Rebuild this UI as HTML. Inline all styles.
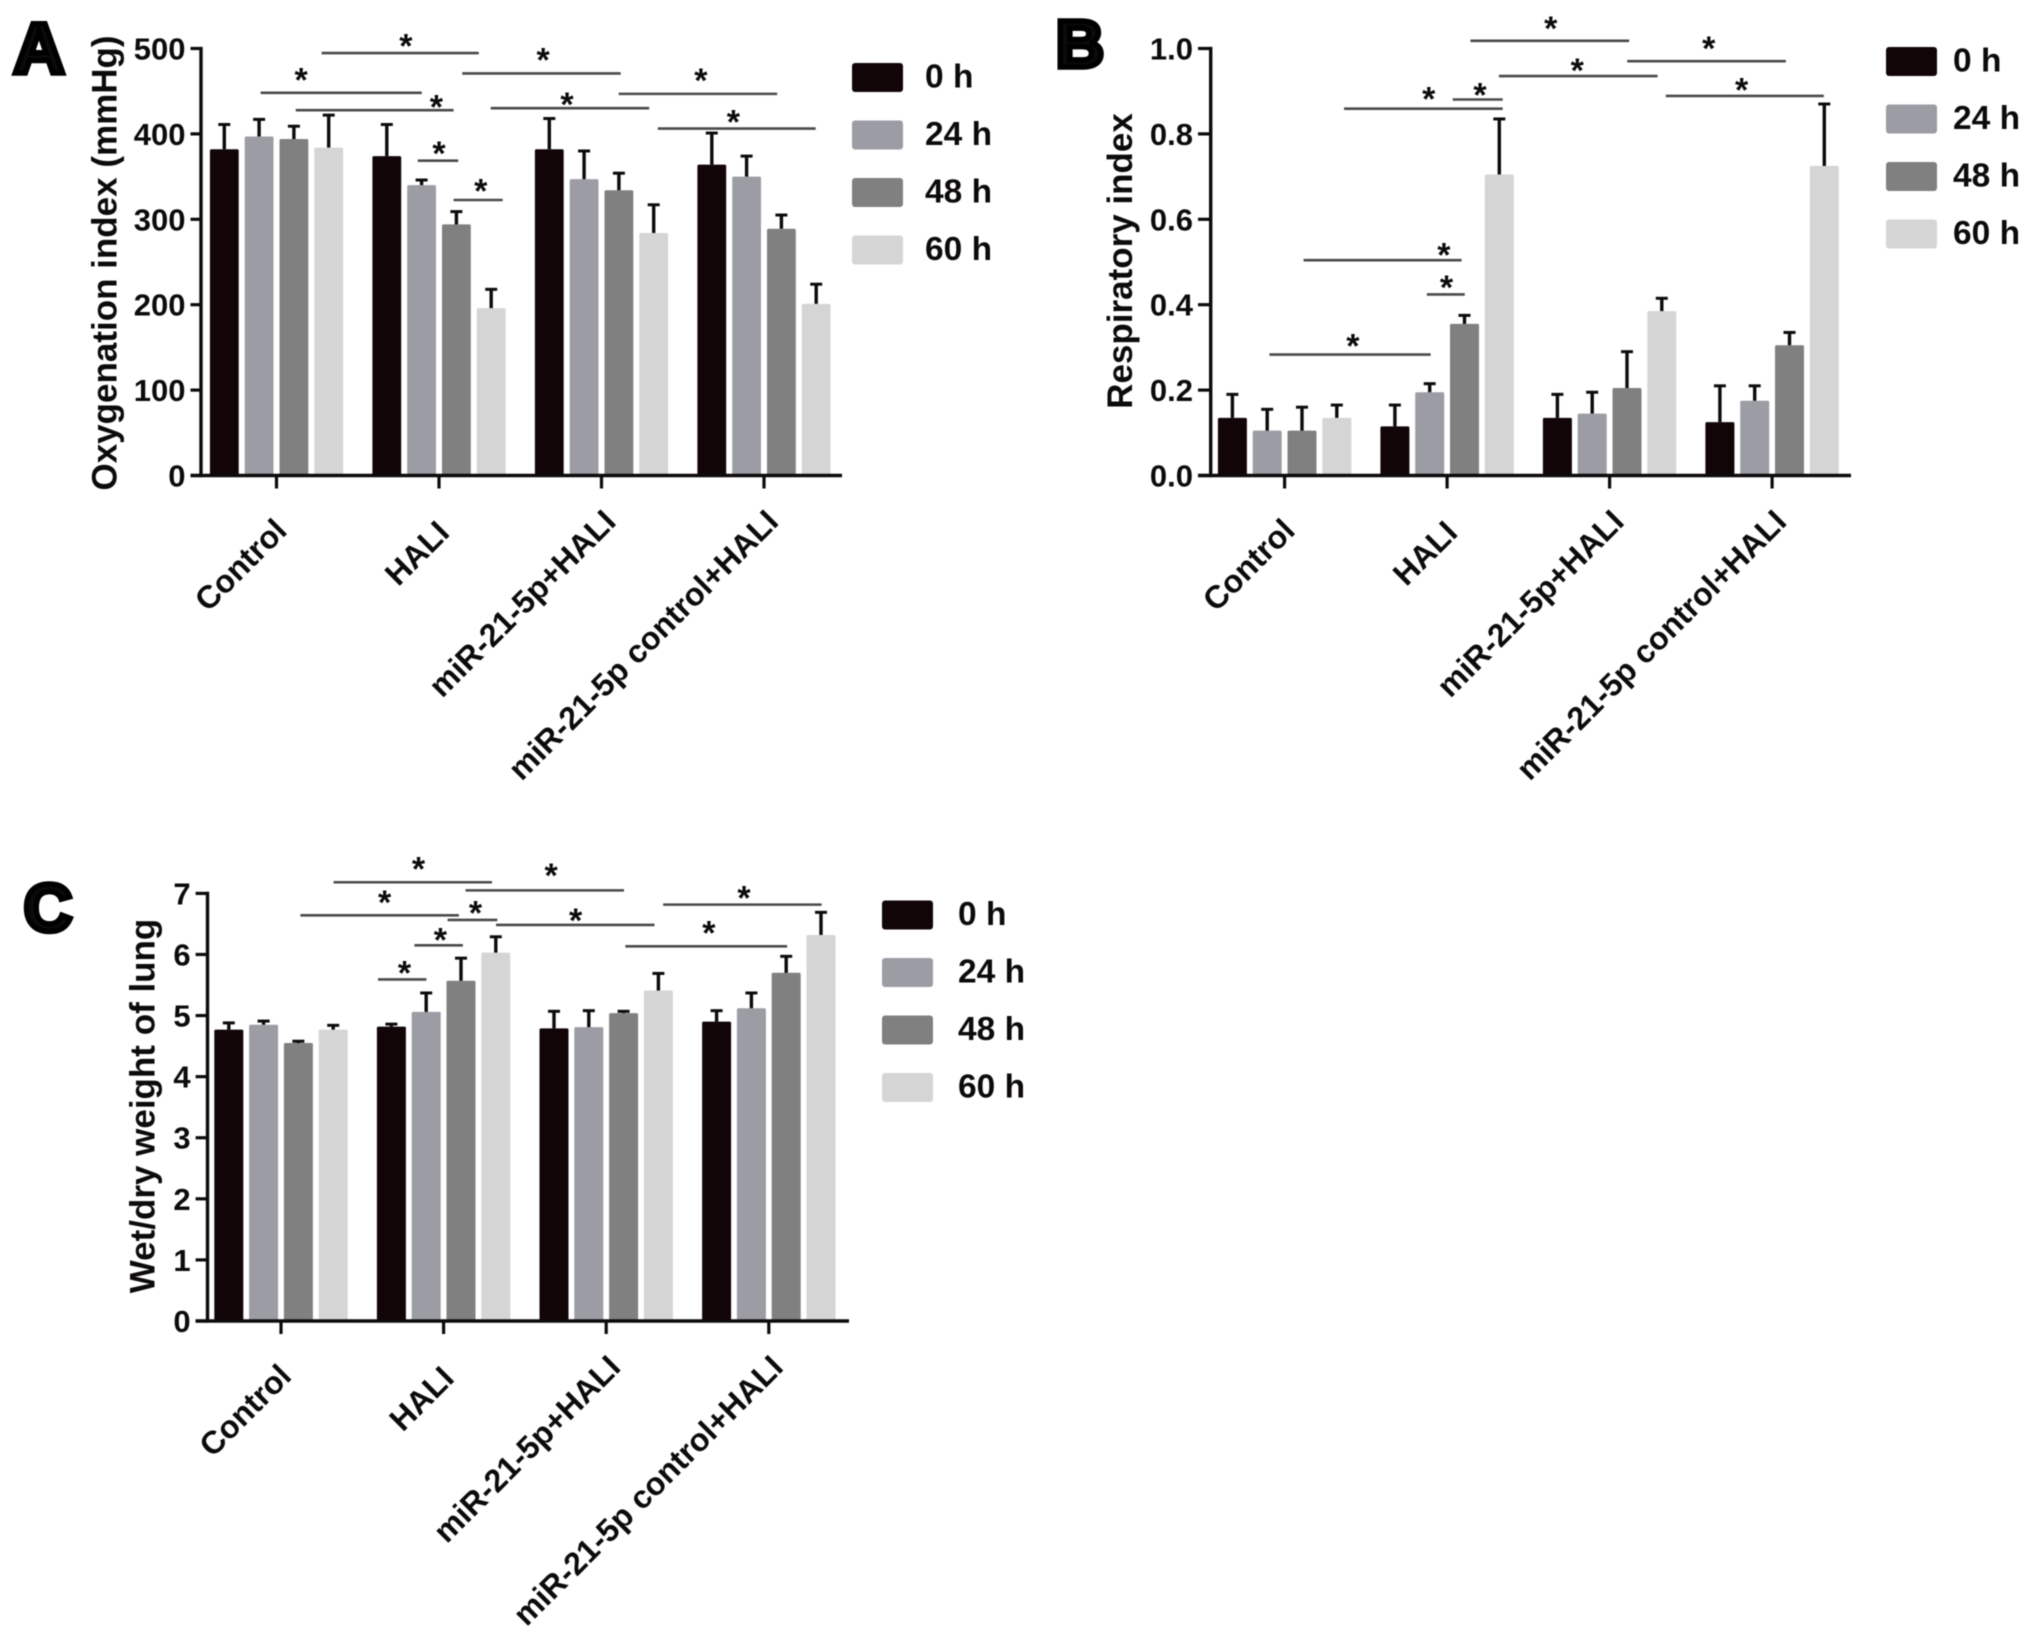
<!DOCTYPE html>
<html lang="en">
<head>
<meta charset="utf-8">
<title>Oxygenation, respiratory index and wet/dry weight bar charts</title>
<style>
  html, body { margin: 0; padding: 0; background: #fff; }
  svg { display: block; filter: blur(0.6px); }
  text { font-family: "Liberation Sans", sans-serif; font-weight: 700; fill: #0d0a0b; }
</style>
</head>
<body>
<svg id="figure" xmlns="http://www.w3.org/2000/svg" width="2031" height="1638" viewBox="0 0 2031 1638"></svg>
<script>
const categories = ['Control', 'HALI', 'miR-21-5p+HALI', 'miR-21-5p control+HALI'];
const seriesNames = ['0 h', '24 h', '48 h', '60 h'];
const seriesColors = ['#110508', '#9c9ca4', '#808080', '#d5d5d5'];

const aTickLabels = ['0', '100', '200', '300', '400', '500'];
const aMean0h = [382, 374, 382, 364];
const aMean24h = [397, 340, 347, 350];
const aMean48h = [394, 294, 334, 289];
const aMean60h = [384, 196, 284, 201];
const aErr0h = [29, 37, 36, 37];
const aErr24h = [20, 6, 33, 24];
const aErr48h = [15, 15, 20, 16];
const aErr60h = [38, 22, 33, 23];

const bTickLabels = ['0.0', '0.2', '0.4', '0.6', '0.8', '1.0'];
const bMean0h = [0.135, 0.115, 0.135, 0.125];
const bMean24h = [0.105, 0.195, 0.145, 0.175];
const bMean48h = [0.105, 0.355, 0.205, 0.305];
const bMean60h = [0.135, 0.705, 0.385, 0.725];
const bErr0h = [0.055, 0.05, 0.055, 0.085];
const bErr24h = [0.05, 0.02, 0.05, 0.035];
const bErr48h = [0.055, 0.02, 0.085, 0.03];
const bErr60h = [0.03, 0.13, 0.03, 0.145];

const cTickLabels = ['0', '1', '2', '3', '4', '5', '6', '7'];
const cMean0h = [4.77, 4.82, 4.79, 4.9];
const cMean24h = [4.85, 5.06, 4.81, 5.12];
const cMean48h = [4.55, 5.57, 5.04, 5.7];
const cMean60h = [4.77, 6.03, 5.41, 6.32];
const cErr0h = [0.11, 0.04, 0.28, 0.18];
const cErr24h = [0.06, 0.31, 0.27, 0.25];
const cErr48h = [0.03, 0.37, 0.03, 0.27];
const cErr60h = [0.07, 0.26, 0.28, 0.37];

const NS = 'http://www.w3.org/2000/svg';
const root = document.getElementById('figure');

function make(parent, tag, attrs, content) {
  const node = document.createElementNS(NS, tag);
  Object.keys(attrs).forEach(function (k) { node.setAttribute(k, attrs[k]); });
  if (content !== undefined) node.textContent = content;
  parent.appendChild(node);
  return node;
}

function drawPanel(cfg) {
  const panel = make(root, 'g', {});
  
  

  const maxVal = parseFloat(cfg.ticks[cfg.ticks.length - 1]);
  const yScale = function (v) { return cfg.y0 - (v / maxVal) * (cfg.y0 - cfg.yTop); };
  const xScale = function (groupIdx, seriesIdx) {
    return cfg.x0 + groupIdx * cfg.groupStep + (seriesIdx - 1.5) * cfg.barStep;
  };

  // bars and error bars
  cfg.means.forEach(function (vals, s) {
    vals.forEach(function (v, g) {
      const cx = xScale(g, s);
      const top = yScale(v);
      const errTop = yScale(v + cfg.errs[s][g]);
      const bar = make(panel, 'rect', { x: cx - cfg.barW / 2, y: top, width: cfg.barW, height: cfg.y0 - top, fill: seriesColors[s], rx: 1.5 });
      
      
      const stem = make(panel, 'line', { x1: cx, x2: cx, y1: top, y2: errTop, stroke: '#0d0a0b', 'stroke-width': 3.4 });
      
      
      const cap = make(panel, 'line', { x1: cx - 6, x2: cx + 6, y1: errTop, y2: errTop, stroke: '#0d0a0b', 'stroke-width': 3 });
      
      
    });
  });

  // axes
  const yAxis = make(panel, 'line', { x1: cfg.axisX, x2: cfg.axisX, y1: cfg.yTop - 1.6, y2: cfg.y0 + 1.6, stroke: '#0d0a0b', 'stroke-width': 3.4 });
  
  
  const xAxis = make(panel, 'line', { x1: cfg.xStart, x2: cfg.xEnd, y1: cfg.y0, y2: cfg.y0, stroke: '#0d0a0b', 'stroke-width': 3.4 });
  
  

  // y ticks
  cfg.ticks.forEach(function (label) {
    const y = yScale(parseFloat(label));
    const tick = make(panel, 'line', { x1: cfg.xStart, x2: cfg.axisX, y1: y, y2: y, stroke: '#0d0a0b', 'stroke-width': 3.2 });
    
    
    const txt = make(panel, 'text', { 'font-size': 31, 'text-anchor': 'end', x: cfg.xStart - 5, y: y + 11 }, label);
    
    
  });

  // x ticks and rotated category labels
  categories.forEach(function (label, g) {
    const cx = cfg.x0 + g * cfg.groupStep;
    const tick = make(panel, 'line', { x1: cx, x2: cx, y1: cfg.y0, y2: cfg.y0 + 13, stroke: '#0d0a0b', 'stroke-width': 3.2 });
    
    
    const longLabel = label.length > 5;
    const labelDx = g >= 2 ? 16 : 12;
    const labelDy = g >= 2 ? 48 : (longLabel ? 57 : 59);
    const txt = make(panel, 'text', { 'font-size': 32, 'text-anchor': 'end', transform: 'translate(' + (cx + labelDx) + ',' + (cfg.y0 + labelDy) + ') rotate(-45)' }, label);
    
    
  });

  // y axis title
  const title = make(panel, 'text', { 'font-size': 35, 'text-anchor': 'middle', transform: 'translate(' + cfg.titleX + ',' + cfg.titleY + ') rotate(-90)' }, cfg.title);
  
  

  // panel letter
  const letter = make(panel, 'text', { 'font-size': cfg.letterSize, stroke: '#000', 'stroke-width': 5.5, 'text-anchor': 'middle', x: cfg.letterX, y: cfg.letterY }, cfg.letter);
  
  

  // legend
  seriesNames.forEach(function (label, s) {
    const y = cfg.legendY + s * 57.5;
    const swatch = make(panel, 'rect', { x: cfg.legendX, y: y, width: 51, height: 29, rx: 3, fill: seriesColors[s] });
    
    
    const txt = make(panel, 'text', { 'font-size': 33.5, x: cfg.legendTextX, y: y + 24.5 }, label);
    
    
  });

  return panel;
}

// significance annotation: coordinates measured on a crop with scale kx, ky and crop origin ox, oy
function bracket(panel, ox, oy, kx, ky, x1, x2, y, sx, sy) {
  const line = make(panel, 'line', { x1: ox + x1 / kx, x2: ox + x2 / kx, y1: oy + y / ky, y2: oy + y / ky, stroke: '#4a4a4a', 'stroke-width': 2.6 });
  
  
  const star = make(panel, 'text', { 'font-size': 34, 'text-anchor': 'middle', x: ox + sx / kx, y: oy + sy / ky + 16.5 }, '*');
  
  
}

const panelA = drawPanel({
  name: 'oxygenation-index-chart', letter: 'A', letterX: 39, letterY: 73, letterSize: 71,
  title: 'Oxygenation index (mmHg)', titleX: 116.7, titleY: 263,
  ticks: aTickLabels,
  means: [aMean0h, aMean24h, aMean48h, aMean60h],
  errs: [aErr0h, aErr24h, aErr48h, aErr60h],
  y0: 475.5, yTop: 48.5, axisX: 201, xStart: 190.5, xEnd: 842,
  x0: 276.5, groupStep: 162.5, barStep: 34.8, barW: 28.8,
  legendX: 852, legendY: 63, legendTextX: 925
});
const panelB = drawPanel({
  name: 'respiratory-index-chart', letter: 'B', letterX: 1080, letterY: 67, letterSize: 67,
  title: 'Respiratory index', titleX: 1132, titleY: 261,
  ticks: bTickLabels,
  means: [bMean0h, bMean24h, bMean48h, bMean60h],
  errs: [bErr0h, bErr24h, bErr48h, bErr60h],
  y0: 475.5, yTop: 48.5, axisX: 1210.7, xStart: 1198, xEnd: 1851,
  x0: 1284.6, groupStep: 162.5, barStep: 34.8, barW: 29,
  legendX: 1886, legendY: 47, legendTextX: 1953
});
const panelC = drawPanel({
  name: 'wet-dry-weight-chart', letter: 'C', letterX: 48, letterY: 931, letterSize: 67,
  title: 'Wet/dry weight of lung', titleX: 154.5, titleY: 1106,
  ticks: cTickLabels,
  means: [cMean0h, cMean24h, cMean48h, cMean60h],
  errs: [cErr0h, cErr24h, cErr48h, cErr60h],
  y0: 1321, yTop: 893.4, axisX: 207.5, xStart: 195.6, xEnd: 849,
  x0: 281, groupStep: 162.6, barStep: 34.8, barW: 29,
  legendX: 882, legendY: 900.5, legendTextX: 958
});

bracket(panelA, 0, 0, 1.508, 1.96, 485, 722, 104, 612, 80);
bracket(panelA, 0, 0, 1.508, 1.96, 393, 636, 182, 454, 147);
bracket(panelA, 0, 0, 1.508, 1.96, 446, 684, 216, 658, 200);
bracket(panelA, 0, 0, 1.508, 1.96, 630, 691, 315, 662, 291);
bracket(panelA, 0, 0, 1.508, 1.96, 684, 758, 392, 725, 365);
bracket(panelA, 0, 0, 1.508, 1.96, 697, 936, 144, 819, 108);
bracket(panelA, 0, 0, 1.508, 1.96, 740, 979, 212, 855, 195);
bracket(panelA, 0, 0, 1.508, 1.96, 933, 1172, 184, 1057, 148);
bracket(panelA, 0, 0, 1.508, 1.96, 992, 1230, 252, 1106, 229);

bracket(panelB, 1040, 0, 1.582, 1.96, 681, 932, 80, 808, 46);
bracket(panelB, 1040, 0, 1.582, 1.96, 929, 1180, 120, 1058, 85);
bracket(panelB, 1040, 0, 1.582, 1.96, 726, 977, 149, 850, 128);
bracket(panelB, 1040, 0, 1.582, 1.96, 990, 1240, 188, 1110, 167);
bracket(panelB, 1040, 0, 1.582, 1.96, 653, 732, 195, 696, 176);
bracket(panelB, 1040, 0, 1.582, 1.96, 481, 732, 213, 615, 184);
bracket(panelB, 1040, 0, 1.582, 1.96, 417, 667, 510, 639, 490);
bracket(panelB, 1040, 0, 1.582, 1.96, 612, 672, 577, 643, 554);
bracket(panelB, 1040, 0, 1.582, 1.96, 363, 618, 695, 495, 668);

bracket(panelC, 0, 840, 1.508, 1.965, 503, 742, 83, 631, 47);
bracket(panelC, 0, 840, 1.508, 1.965, 702, 941, 99, 831, 60);
bracket(panelC, 0, 840, 1.508, 1.965, 1000, 1239, 127, 1122, 104);
bracket(panelC, 0, 840, 1.508, 1.965, 453, 692, 148, 580, 113);
bracket(panelC, 0, 840, 1.508, 1.965, 675, 750, 157, 717, 134);
bracket(panelC, 0, 840, 1.508, 1.965, 748, 987, 167, 868, 148);
bracket(panelC, 0, 840, 1.508, 1.965, 625, 698, 207, 664, 187);
bracket(panelC, 0, 840, 1.508, 1.965, 943, 1187, 209, 1069, 173);
bracket(panelC, 0, 840, 1.508, 1.965, 570, 643, 274, 610, 252);
</script>
</body>
</html>
